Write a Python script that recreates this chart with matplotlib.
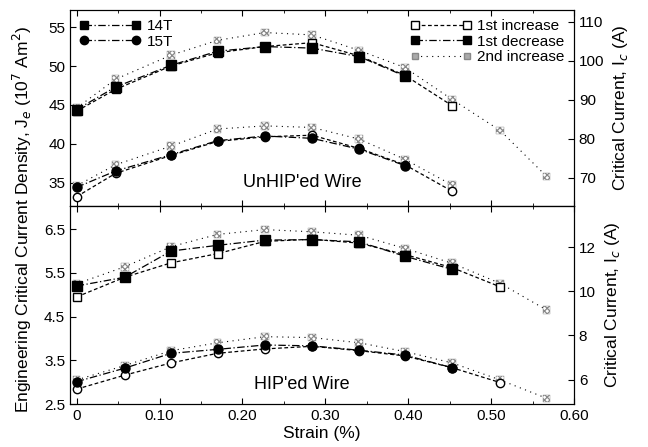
import matplotlib
matplotlib.use("Agg")
import matplotlib.pyplot as plt
from matplotlib.lines import Line2D
from matplotlib.ticker import MultipleLocator

plt.rcParams["font.family"] = ["Liberation Sans", "DejaVu Sans"]
plt.rcParams["hatch.color"] = "#666666"
plt.rcParams["hatch.linewidth"] = 0.9

# strain positions (%)
strain_top = [0, 0.047, 0.114, 0.170, 0.227, 0.284, 0.341, 0.396, 0.453, 0.511, 0.567]
strain_bot = [0, 0.058, 0.114, 0.170, 0.227, 0.284, 0.341, 0.396, 0.453, 0.511, 0.567]

# UnHIP'ed wire, Je (1e7 A/m2)
top_14_inc1 = [44.2, 47.0, 50.0, 51.7, 52.5, 53.0, 51.3, 48.8, 44.9]
top_14_dec1 = [44.4, 47.3, 50.1, 51.9, 52.5, 52.3, 51.2, 48.7]
top_14_inc2 = [44.6, 48.3, 51.4, 53.3, 54.3, 54.0, 52.0, 49.8, 45.7, 41.7, 35.8]
top_15_inc1 = [33.2, 36.2, 38.5, 40.3, 40.9, 41.1, 39.4, 37.3, 33.9]
top_15_dec1 = [34.4, 36.5, 38.6, 40.4, 41.0, 40.7, 39.3, 37.2]
top_15_inc2 = [34.6, 37.3, 39.7, 41.9, 42.3, 42.1, 40.6, 38.0, 34.7]

# HIP'ed wire, Je (1e7 A/m2)
bot_14_inc1 = [4.95, 5.40, 5.73, 5.94, 6.22, 6.27, 6.18, 5.92, 5.62, 5.18]
bot_14_dec1 = [5.20, 5.40, 6.00, 6.13, 6.25, 6.26, 6.21, 5.88, 5.58]
bot_14_inc2 = [5.25, 5.64, 6.10, 6.38, 6.49, 6.44, 6.36, 6.06, 5.72, 5.26, 4.65]
bot_15_inc1 = [2.84, 3.16, 3.44, 3.66, 3.76, 3.82, 3.72, 3.60, 3.33, 2.99]
bot_15_dec1 = [3.01, 3.32, 3.66, 3.75, 3.85, 3.83, 3.73, 3.62, 3.33]
bot_15_inc2 = [3.05, 3.38, 3.72, 3.90, 4.04, 4.02, 3.90, 3.70, 3.44, 3.05, 2.63]

top_left_ticks = [35, 40, 45, 50, 55]
top_right_ticks = [70, 80, 90, 100, 110]
bot_left_ticks = [2.5, 3.5, 4.5, 5.5, 6.5]
bot_right_ticks = [6, 8, 10, 12]
x_ticks = [0, 0.1, 0.2, 0.3, 0.4, 0.5, 0.6]
x_labels = ["0", "0.10", "0.20", "0.30", "0.40", "0.50", "0.60"]

FS = 11
LFS = 12.5
fig = plt.figure(figsize=(6.48, 4.47), dpi=100)
L, R = 70 / 648, 574 / 648
ax_top = fig.add_axes([L, 1 - 206 / 447, R - L, 196 / 447])
ax_bot = fig.add_axes([L, 1 - 404 / 447, R - L, 198 / 447])


def draw_set(ax, x, inc1, dec1, inc2, marker):
    n1, n2, n3 = len(inc1), len(dec1), len(inc2)
    ax.plot(x[:n3], inc2, color="black", ls=(0, (1, 4)), lw=0.8, zorder=1)
    ax.scatter(x[:n3], inc2, marker="s", s=30, facecolor="white",
               edgecolor="#888888", linewidths=0.3, hatch="xxxxxx", zorder=2)
    ax.plot(x[:n1], inc1, color="black", ls=(0, (3, 2)), lw=0.9,
            marker=marker, ms=6, mfc="white", mec="black", mew=1.0, zorder=3)
    ax.plot(x[:n2], dec1, color="black", ls=(0, (6, 2, 1, 2)), lw=0.9,
            marker=marker, ms=6.5, mfc="black", mec="black", zorder=4)


draw_set(ax_top, strain_top, top_14_inc1, top_14_dec1, top_14_inc2, "s")
draw_set(ax_top, strain_top, top_15_inc1, top_15_dec1, top_15_inc2, "o")
draw_set(ax_bot, strain_bot, bot_14_inc1, bot_14_dec1, bot_14_inc2, "s")
draw_set(ax_bot, strain_bot, bot_15_inc1, bot_15_dec1, bot_15_inc2, "o")

for ax in (ax_top, ax_bot):
    ax.set_xlim(-0.008, 0.6)
    ax.set_xticks(x_ticks)
    ax.xaxis.set_minor_locator(MultipleLocator(0.05))
    ax.tick_params(which="both", direction="in", top=True, labelsize=FS)
    ax.tick_params(which="major", length=4)
    ax.tick_params(which="minor", length=2.5)

ax_top.set_ylim(32.0, 57.2)
ax_top.set_yticks(top_left_ticks)
ax_top.tick_params(labelbottom=False)
ax_bot.set_ylim(2.5, 7.03)
ax_bot.set_yticks(bot_left_ticks)
ax_bot.set_xticklabels(x_labels)
ax_bot.set_xlabel("Strain (%)", fontsize=LFS, labelpad=2)

tw_top = ax_top.twinx()
tw_top.set_ylim(62.8, 113.0)
tw_top.set_yticks(top_right_ticks)
tw_bot = ax_bot.twinx()
tw_bot.set_ylim(4.9, 13.86)
tw_bot.set_yticks(bot_right_ticks)
for tw in (tw_top, tw_bot):
    tw.tick_params(direction="in", labelsize=FS, length=4)
    tw.set_ylabel("Critical Current, I$_c$ (A)", fontsize=LFS, labelpad=5)

fig.text(0.034, 0.51, "Engineering Critical Current Density, J$_e$ (10$^7$ Am$^2$)",
         rotation=90, ha="center", va="center", fontsize=LFS)

ax_top.text(0.46, 0.12, "UnHIP'ed Wire", transform=ax_top.transAxes,
            ha="center", va="center", fontsize=LFS + 0.5)
ax_bot.text(0.46, 0.1, "HIP'ed Wire", transform=ax_bot.transAxes,
            ha="center", va="center", fontsize=LFS + 0.5)

field_handles = [
    Line2D([0], [0], color="black", ls=(0, (6, 2, 1, 2)), lw=0.9, marker="s",
           ms=6, mfc="black", label="14T"),
    Line2D([0], [0], color="black", ls=(0, (6, 2, 1, 2)), lw=0.9, marker="o",
           ms=6, mfc="black", label="15T"),
]
leg1 = ax_top.legend(handles=field_handles, loc="upper left", frameon=False,
                     fontsize=FS, handlelength=4, numpoints=2,
                     borderaxespad=0.2, labelspacing=0.1, handletextpad=0.4)
ax_top.add_artist(leg1)

run_handles = [
    Line2D([0], [0], color="black", ls=(0, (3, 2)), lw=0.9, marker="s",
           ms=6, mfc="white", label="1st increase"),
    Line2D([0], [0], color="black", ls=(0, (6, 2, 1, 2)), lw=0.9, marker="s",
           ms=6, mfc="black", label="1st decrease"),
    Line2D([0], [0], color="black", ls=(0, (1, 4)), lw=0.8, marker="s",
           ms=5, mfc="#aaaaaa", mec="#888888", label="2nd increase"),
]
ax_top.legend(handles=run_handles, loc="upper right", frameon=False,
              fontsize=FS, handlelength=4, numpoints=2,
              borderaxespad=0.2, labelspacing=0.1, handletextpad=0.4)

fig.savefig("out.png", dpi=100)
